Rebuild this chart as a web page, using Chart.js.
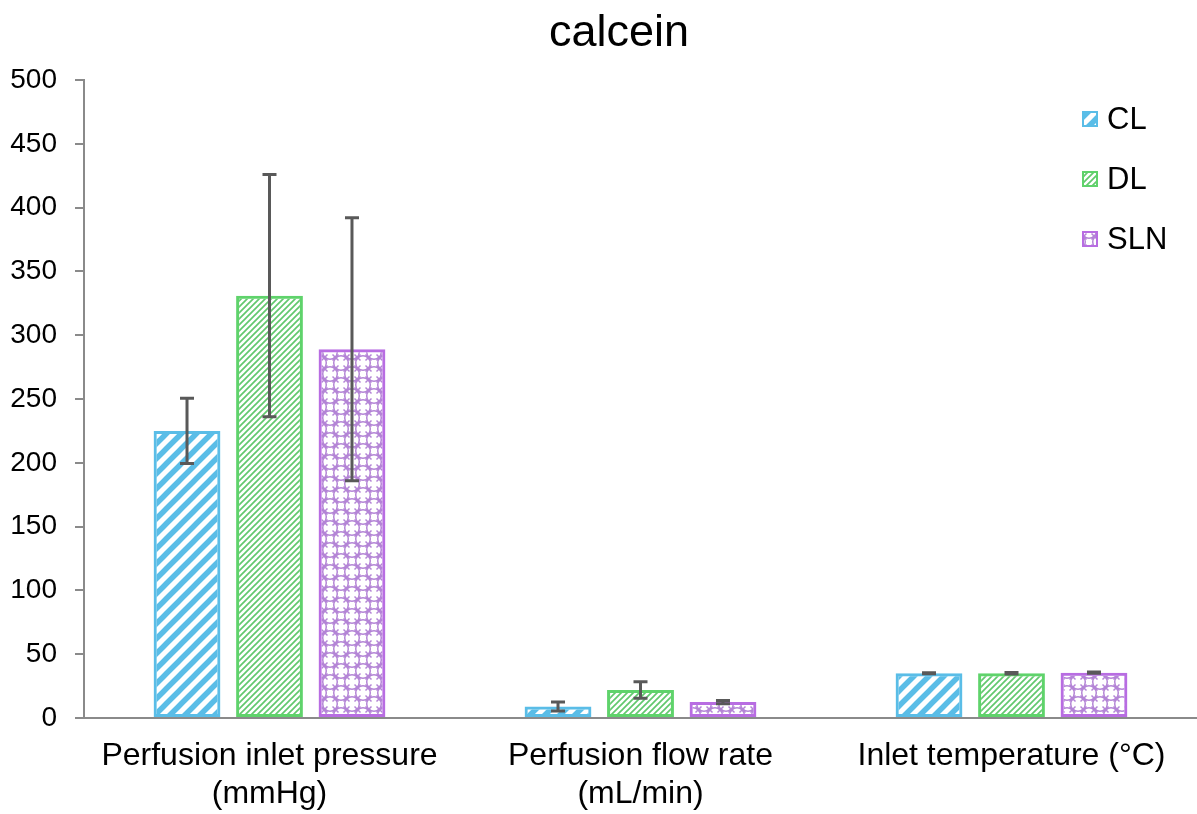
<!DOCTYPE html>
<html>
<head>
<meta charset="utf-8">
<script src="https://cdn.jsdelivr.net/npm/chart.js@4.4.1/dist/chart.umd.min.js"></script>
<style>
  html, body { margin: 0; padding: 0; background: #fff; overflow: hidden; }
</style>
</head>
<body>
<canvas id="chart" width="1197" height="814"></canvas>
<script>
// values
const chartTitle = "calcein";
const categories = [["Perfusion inlet pressure", "(mmHg)"], ["Perfusion flow rate", "(mL/min)"], ["Inlet temperature (°C)"]];
const seriesNames = ["CL", "DL", "SLN"];
const clValues = [225, 9, 35];
const clErrors = [25.5, 3.5, 0.4];
const dlValues = [331, 22, 35];
const dlErrors = [95, 6.5, 0.6];
const slnValues = [289, 12.5, 35.5];
const slnErrors = [103, 1.3, 0.5];
const yTicks = { min: 0, max: 500, step: 50 };

const FONT = "'Liberation Sans', Arial, sans-serif";
const BLUE = "#5abde7";
const GREEN = "#5fd36b";
const PURPLE = "#b86de2";

/**
 * build a repeating fill from a small tile
 */
function tilePattern(size, draw) {
  const c = document.createElement("canvas");
  c.width = size;
  c.height = size;
  const g = c.getContext("2d");
  draw(g, size);
  return g.createPattern(c, "repeat");
}

function diagonal(g, s) {
  g.beginPath();
  g.moveTo(-s, s); g.lineTo(s, -s);
  g.moveTo(0, s); g.lineTo(s, 0);
  g.moveTo(0, 2 * s); g.lineTo(2 * s, 0);
  g.stroke();
}

const clFill = tilePattern(15, (g, s) => {
  g.strokeStyle = BLUE;
  g.lineWidth = 5.5;
  diagonal(g, s);
});

const dlFill = tilePattern(6, (g, s) => {
  g.strokeStyle = "#62c86e";
  g.lineWidth = 1.7;
  diagonal(g, s);
});

const slnFill = tilePattern(22, (g, s) => {
  g.strokeStyle = "#b485d6";
  g.lineWidth = 1.5;
  const r = s / 2 * 0.7071 - 0.5;
  [[s / 2, s / 2], [0, 0], [s, 0], [0, s], [s, s]].forEach(([cx, cy]) => {
    g.beginPath();
    g.arc(cx, cy, r, 0, Math.PI * 2);
    g.stroke();
  });
  const d = 3;
  g.beginPath();
  [[s / 4, s / 4], [3 * s / 4, s / 4], [s / 4, 3 * s / 4], [3 * s / 4, 3 * s / 4]].forEach(([cx, cy]) => {
    g.moveTo(cx - d, cy - d); g.lineTo(cx + d, cy + d);
    g.moveTo(cx + d, cy - d); g.lineTo(cx - d, cy + d);
  });
  g.stroke();
});

/**
 * title slightly left of centre, as in the source figure
 */
const titleText = {
  id: "titleText",
  afterDraw(chart) {
    const ctx = chart.ctx;
    ctx.save();
    ctx.fillStyle = "#000";
    ctx.font = "45px " + FONT;
    ctx.textAlign = "center";
    ctx.textBaseline = "alphabetic";
    ctx.fillText(chartTitle, 619, 46);
    ctx.restore();
  },
};

/**
 * error bars drawn from each bar element and the y scale
 */
const errorBars = {
  id: "errorBars",
  afterDatasetsDraw(chart) {
    const ctx = chart.ctx;
    const y = chart.scales.y;
    ctx.save();
    ctx.strokeStyle = "#595959";
    ctx.lineWidth = 3;
    chart.data.datasets.forEach((ds, i) => {
      chart.getDatasetMeta(i).data.forEach((bar, j) => {
        const v = ds.data[j];
        const e = ds.errors[j];
        const top = y.getPixelForValue(v + e);
        const bot = y.getPixelForValue(v - e);
        ctx.beginPath();
        ctx.moveTo(bar.x, top); ctx.lineTo(bar.x, bot);
        ctx.moveTo(bar.x - 7, top); ctx.lineTo(bar.x + 7, top);
        ctx.moveTo(bar.x - 7, bot); ctx.lineTo(bar.x + 7, bot);
        ctx.stroke();
      });
    });
    ctx.restore();
  },
};

/**
 * vertical legend in the top right corner
 */
const cornerLegend = {
  id: "cornerLegend",
  afterDraw(chart) {
    const ctx = chart.ctx;
    ctx.save();
    chart.data.datasets.forEach((ds, i) => {
      const cy = 119 + i * 60;
      ctx.fillStyle = ds.backgroundColor;
      ctx.fillRect(1083, cy - 7, 14, 14);
      ctx.strokeStyle = ds.borderColor;
      ctx.lineWidth = 2;
      ctx.strokeRect(1083, cy - 7, 14, 14);
      ctx.fillStyle = "#000";
      ctx.font = "31px " + FONT;
      ctx.textBaseline = "middle";
      ctx.textAlign = "left";
      ctx.fillText(ds.label, 1107, cy + 1);
    });
    ctx.restore();
  },
};

const barStyle = { borderWidth: 3, borderSkipped: false };

const ctx = document.getElementById("chart").getContext("2d");
new Chart(ctx, {
  type: "bar",
  data: {
    labels: categories,
    datasets: [
      { label: seriesNames[0], data: clValues, errors: clErrors, backgroundColor: clFill, borderColor: BLUE, ...barStyle },
      { label: seriesNames[1], data: dlValues, errors: dlErrors, backgroundColor: dlFill, borderColor: GREEN, ...barStyle },
      { label: seriesNames[2], data: slnValues, errors: slnErrors, backgroundColor: slnFill, borderColor: PURPLE, ...barStyle },
    ],
  },
  options: {
    responsive: false,
    animation: false,
    layout: { padding: { top: 80, left: 0, right: 0, bottom: 0 } },
    datasets: { bar: { categoryPercentage: 0.667, barPercentage: 0.81 } },
    plugins: {
      legend: { display: false },
      tooltip: { enabled: false },
      title: { display: false },
    },
    scales: {
      x: {
        grid: { display: false, drawTicks: false },
        border: { display: true, color: "#8a8a8a", width: 2 },
        ticks: { color: "#000", font: { family: FONT, size: 32, lineHeight: 1.2 }, padding: 19, maxRotation: 0 },
        afterFit: (s) => { s.height = 96; },
      },
      y: {
        min: yTicks.min,
        max: yTicks.max,
        ticks: { stepSize: yTicks.step, color: "#000", font: { family: FONT, size: 28 }, padding: 18 },
        grid: { drawOnChartArea: false, drawTicks: true, tickLength: 9, color: "#8a8a8a", lineWidth: 2 },
        border: { color: "#8a8a8a", width: 2 },
        afterFit: (s) => { s.width = 84; },
      },
    },
  },
  plugins: [errorBars, cornerLegend, titleText],
});
</script>
</body>
</html>
